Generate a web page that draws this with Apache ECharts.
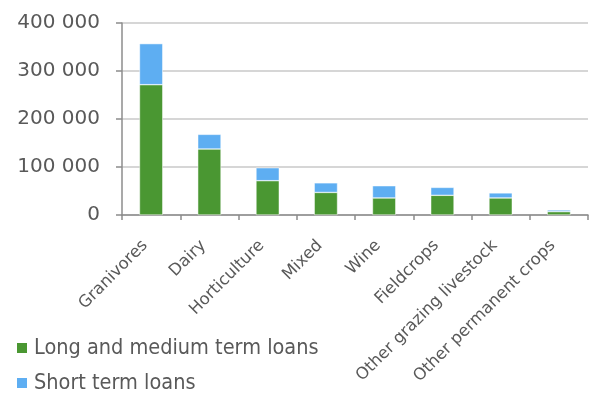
<!DOCTYPE html>
<html lang="en">
<head>
	<meta charset="UTF-8">
	<title>Loans by farm type</title>
	<script type="text/javascript" src="https://cdn.jsdelivr.net/npm/echarts@6/dist/echarts.min.js"></script>
	<style>
		html, body { margin: 0; padding: 0; background: #fff; }
	</style>
</head>
<body>
	<div id="main" style="width: 589px;height: 393px;"></div>
	<script type="text/javascript">
		var categories = ['Granivores', 'Dairy', 'Horticulture', 'Mixed', 'Wine', 'Fieldcrops', 'Other grazing livestock', 'Other permanent crops'];
		var longMediumLoans = [271500, 137500, 71500, 47000, 35500, 41000, 35500, 7000];
		var shortLoans = [85500, 30500, 27000, 20000, 25500, 16500, 10500, 3500];
		var yTicks = [0, 100000, 200000, 300000, 400000];

		var textColor = '#595959';
		var fontName = '"DejaVu Sans", sans-serif';
		var narrowFont = '"DejaVu Sans Condensed", "DejaVu Sans", sans-serif';

		var fmt = function(v){
			return String(v).replace(/\B(?=(\d{3})+(?!\d))/g, ' ');
		};

		var legendItem = function(name, top){
			return {
				orient: 'horizontal',
				left: 15,
				top: top,
				padding: 0,
				itemWidth: 12,
				itemHeight: 12,
				itemGap: 6,
				icon: 'rect',
				selectedMode: false,
				textStyle: { fontSize: 21.5, color: textColor, fontFamily: narrowFont, padding: [0, 0, 0, 1] },
				data: [name]
			};
		};

		var chart = echarts.init(document.getElementById('main'));
		var option = {
			animation: false,
			color: ['#4a9732', '#5eaef2'],
			grid: { left: 122, right: 1, top: 23, bottom: 178, containLabel: false },
			legend: [
				legendItem('Long and medium term loans', 337),
				legendItem('Short term loans', 372)
			],
			xAxis: {
				type: 'category',
				data: categories,
				axisLine: { lineStyle: { color: '#8c8c8c', width: 1.5 } },
				axisTick: { show: true, length: 5, lineStyle: { color: '#8c8c8c', width: 1.5 } },
				axisLabel: {
					rotate: 45, fontSize: 16.5, color: textColor, fontFamily: fontName,
					margin: 34, interval: 0, verticalAlign: 'bottom'
				}
			},
			yAxis: {
				type: 'value',
				min: yTicks[0],
				max: yTicks[yTicks.length - 1],
				interval: yTicks[1] - yTicks[0],
				axisLine: { show: true, lineStyle: { color: '#8c8c8c', width: 1.5 } },
				axisTick: { show: true, length: 6, lineStyle: { color: '#8c8c8c', width: 1.5 } },
				splitLine: { lineStyle: { color: '#c8c8c8', width: 1.5 } },
				axisLabel: { fontSize: 20, color: textColor, fontFamily: fontName, margin: 22, formatter: fmt }
			},
			series: [
				{
					name: 'Long and medium term loans',
					type: 'bar',
					stack: 'loans',
					barWidth: '40%',
					itemStyle: { borderColor: '#ffffff', borderWidth: 0.5 },
					data: longMediumLoans
				},
				{
					name: 'Short term loans',
					type: 'bar',
					stack: 'loans',
					barWidth: '40%',
					itemStyle: { borderColor: '#ffffff', borderWidth: 0.5 },
					data: shortLoans
				}
			]
		};
		chart.setOption(option);
	</script>
</body>
</html>
